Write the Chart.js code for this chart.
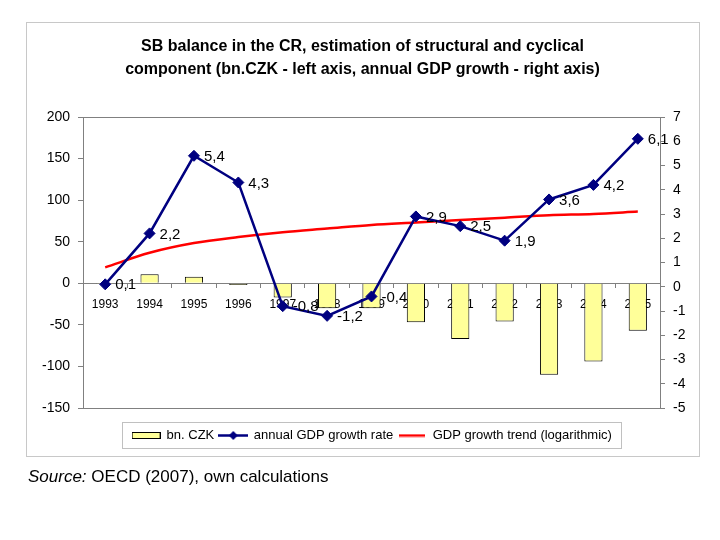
<!DOCTYPE html>
<html>
<head>
<meta charset="utf-8">
<script src="https://cdn.jsdelivr.net/npm/chart.js@4"></script>
<style>
html,body{margin:0;padding:0;background:#fff;}
#wrap{position:relative;width:720px;height:540px;}
#src{position:absolute;left:28px;top:467px;font:17px/20px "Liberation Sans",Arial,sans-serif;color:#000;white-space:nowrap;}
</style>
</head>
<body>
<div id="wrap">
<canvas id="c" width="720" height="540"></canvas>
<div id="src"><i>Source:</i> OECD (2007), own calculations</div>
</div>
<script>
const categories = ['1993','1994','1995','1996','1997','1998','1999','2000','2001','2002','2003','2004','2005'];
const sbBalance = [-1, 11, 8, -2, -17, -30, -30, -47, -67, -46, -110, -94, -57];
const gdpGrowth = [0.1, 2.2, 5.4, 4.3, -0.8, -1.2, -0.4, 2.9, 2.5, 1.9, 3.6, 4.2, 6.1];
const gdpTrend = [0.8, 1.4, 1.8, 2.05, 2.25, 2.4, 2.55, 2.65, 2.75, 2.85, 2.95, 3.0, 3.1];
const leftTicks = [-150, -100, -50, 0, 50, 100, 150, 200];
const rightTicks = [-5, -4, -3, -2, -1, 0, 1, 2, 3, 4, 5, 6, 7];
const seriesNames = ['bn. CZK', 'annual GDP growth rate', 'GDP growth trend (logarithmic)'];
const titleLines = [
  'SB balance in the CR, estimation of structural and cyclical',
  'component (bn.CZK - left axis, annual GDP growth - right axis)'
];

const FONT = "'Liberation Sans', Arial, sans-serif";
const BAR_FILL = '#FFFF99';
const NAVY = '#000080';
const RED = '#FF0000';

Chart.defaults.font.family = FONT;
Chart.defaults.color = '#000';

// legend symbols
function mk(w, h, fn) { const c = document.createElement('canvas'); c.width = w; c.height = h; fn(c.getContext('2d')); return c; }
const symBar = mk(29, 7, g => { g.fillStyle = BAR_FILL; g.fillRect(0.5, 0.5, 28, 6); g.strokeStyle = '#000'; g.lineWidth = 1; g.strokeRect(0.5, 0.5, 28, 6); });
const symNavy = mk(30, 11, g => {
  g.strokeStyle = NAVY; g.lineWidth = 2.5; g.beginPath(); g.moveTo(0, 5.5); g.lineTo(30, 5.5); g.stroke();
  g.fillStyle = NAVY; g.beginPath(); g.moveTo(15, 1); g.lineTo(19.5, 5.5); g.lineTo(15, 10); g.lineTo(10.5, 5.5); g.closePath(); g.fill();
});
const symRed = mk(26, 4, g => { g.strokeStyle = RED; g.lineWidth = 2.5; g.beginPath(); g.moveTo(0, 2); g.lineTo(26, 2); g.stroke(); });
const legendSyms = [symBar, symNavy, symRed];

const fmt = v => String(v).replace('.', ',');

const decor = {
  id: 'decor',
  beforeDraw(chart) {
    const g = chart.ctx;
    g.save();
    g.fillStyle = '#fff';
    g.fillRect(0, 0, chart.width, chart.height);
    g.strokeStyle = '#c8c8c8';
    g.lineWidth = 1;
    g.strokeRect(26.5, 22.5, 673, 434);
    g.restore();
  },
  afterLayout(chart) {
    const lg = chart.legend;
    if (lg) {
      lg.left = 102; lg.right = 642; lg.width = 540;
      lg.top = 424; lg.bottom = 449; lg.height = 25;
    }
  },
  beforeDatasetsDraw(chart) {
    const a = chart.chartArea, g = chart.ctx;
    g.save();
    g.strokeStyle = '#808080';
    g.lineWidth = 1;
    g.strokeRect(Math.round(a.left) + 0.5, Math.round(a.top) + 0.5, Math.round(a.right - a.left), Math.round(a.bottom - a.top));
    g.restore();
  },
  afterDatasetsDraw(chart) {
    const g = chart.ctx;
    const meta = chart.getDatasetMeta(1);
    g.save();
    g.font = '15px ' + FONT;
    g.fillStyle = '#000';
    g.textAlign = 'left';
    g.textBaseline = 'middle';
    meta.data.forEach((pt, i) => { g.fillText(fmt(gdpGrowth[i]), pt.x + 10, pt.y + 1); });
    g.restore();
  },
  afterDraw(chart) {
    const g = chart.ctx;
    g.save();
    g.strokeStyle = '#c0c0c0';
    g.lineWidth = 1;
    g.strokeRect(122.5, 422.5, 499, 26);
    g.restore();
  }
};

new Chart(document.getElementById('c'), {
  data: {
    labels: categories,
    datasets: [
      { type: 'bar', label: seriesNames[0], data: sbBalance, yAxisID: 'y', order: 3,
        backgroundColor: BAR_FILL, borderColor: '#000', borderWidth: 1,
        barPercentage: 0.41, categoryPercentage: 1 },
      { type: 'line', label: seriesNames[1], data: gdpGrowth, yAxisID: 'y1', order: 1,
        borderColor: NAVY, backgroundColor: NAVY, borderWidth: 2.5, tension: 0,
        pointStyle: 'rectRot', pointRadius: 5.5, pointBackgroundColor: NAVY, pointBorderColor: NAVY, pointBorderWidth: 1 },
      { type: 'line', label: seriesNames[2], data: gdpTrend, yAxisID: 'y1', order: 2,
        borderColor: RED, backgroundColor: RED, borderWidth: 2.5, pointRadius: 0, cubicInterpolationMode: 'monotone' }
    ]
  },
  options: {
    responsive: false,
    animation: false,
    devicePixelRatio: 1,
    events: [],
    layout: { padding: { top: 23, left: 26, right: 21, bottom: 104 } },
    plugins: {
      tooltip: { enabled: false },
      title: {
        display: true, text: titleLines, color: '#000',
        font: { size: 16, weight: 'bold', lineHeight: 1.45 },
        padding: { top: 12, bottom: 35.6 }
      },
      legend: {
        display: true, position: 'bottom',
        labels: {
          usePointStyle: true, pointStyleWidth: 28, padding: 5,
          font: { size: 13 }, color: '#000',
          generateLabels: () => seriesNames.map((t, i) => ({
            text: t, pointStyle: legendSyms[i], datasetIndex: i, hidden: false,
            fillStyle: 'transparent', strokeStyle: 'transparent', lineWidth: 0, fontColor: '#000'
          }))
        }
      }
    },
    scales: {
      x: {
        type: 'category', position: { y: 0 }, offset: true, z: 1,
        grid: { offset: true, drawOnChartArea: false, drawTicks: true, tickLength: 4, color: '#808080' },
        border: { color: '#808080' },
        ticks: { font: { size: 12 }, color: '#000', padding: 10, maxRotation: 0, autoSkip: false }
      },
      y: {
        position: 'left', min: leftTicks[0], max: leftTicks[leftTicks.length - 1],
        ticks: { stepSize: leftTicks[1] - leftTicks[0], font: { size: 14 }, color: '#000', padding: 8 },
        grid: { drawOnChartArea: false, tickLength: 5, color: '#808080' },
        border: { color: '#808080' },
        afterFit(s) { s.width = 57; }
      },
      y1: {
        position: 'right', min: rightTicks[0], max: rightTicks[rightTicks.length - 1],
        ticks: { stepSize: rightTicks[1] - rightTicks[0], font: { size: 14 }, color: '#000', padding: 8 },
        grid: { drawOnChartArea: false, tickLength: 5, color: '#808080' },
        border: { color: '#808080' },
        afterFit(s) { s.width = 39; }
      }
    }
  },
  plugins: [decor]
});
</script>
</body>
</html>
